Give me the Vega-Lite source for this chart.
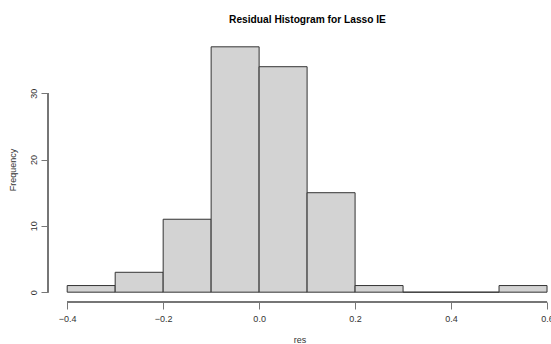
{
  "$schema": "https://vega.github.io/schema/vega-lite/v6.json",
  "autosize": "none",
  "padding": {"left": 48, "top": 37, "right": 0, "bottom": 42},
  "width": 503,
  "height": 265,
  "background": "white",
  "title": {
    "text": "Residual Histogram for Lasso IE",
    "font": "Liberation Sans",
    "fontSize": 10.2,
    "fontWeight": "bold",
    "color": "#000000",
    "anchor": "middle",
    "dx": 8,
    "offset": 12
  },
  "data": {
    "values": [
      {"start": -0.4, "end": -0.3, "count": 1},
      {"start": -0.3, "end": -0.2, "count": 3},
      {"start": -0.2, "end": -0.1, "count": 11},
      {"start": -0.1, "end": 0.0, "count": 37},
      {"start": 0.0, "end": 0.1, "count": 34},
      {"start": 0.1, "end": 0.2, "count": 15},
      {"start": 0.2, "end": 0.3, "count": 1},
      {"start": 0.3, "end": 0.4, "count": 0},
      {"start": 0.4, "end": 0.5, "count": 0},
      {"start": 0.5, "end": 0.6, "count": 1}
    ]
  },
  "layer": [
    {
      "mark": {"type": "bar", "fill": "#D3D3D3", "stroke": "#333333", "strokeWidth": 1, "binSpacing": 0},
      "encoding": {
        "x": {
          "field": "start", "type": "quantitative",
          "scale": {"domain": [-0.44, 0.6083], "nice": false, "zero": false},
          "axis": {
            "values": [-0.4, -0.2, 0.0, 0.2, 0.4, 0.6],
            "format": ".1f",
            "domain": false, "grid": false,
            "tickSize": 7, "tickColor": "#777777",
            "labelFont": "Liberation Sans", "labelFontSize": 9, "labelColor": "#333333",
            "labelPadding": 5, "labelFlush": false, "labelOverlap": false,
            "title": "res", "titleFont": "Liberation Sans", "titleFontSize": 9,
            "titleFontWeight": "normal", "titleColor": "#333333", "titlePadding": 12
          }
        },
        "x2": {"field": "end"},
        "y": {
          "field": "count", "type": "quantitative",
          "scale": {"domain": [-1.48, 38.48], "nice": false, "zero": false},
          "axis": {
            "values": [0, 10, 20, 30],
            "domain": false, "grid": false,
            "tickSize": 7, "tickColor": "#777777",
            "labelFont": "Liberation Sans", "labelFontSize": 9, "labelColor": "#333333",
            "labelAngle": -90, "labelAlign": "center", "labelBaseline": "bottom",
            "labelPadding": 3, "labelFlush": false,
            "title": "Frequency", "titleFont": "Liberation Sans", "titleFontSize": 9,
            "titleFontWeight": "normal", "titleColor": "#333333", "titlePadding": 12
          }
        },
        "y2": {"datum": 0}
      }
    },
    {
      "mark": {"type": "rule", "color": "#777777", "strokeWidth": 1},
      "encoding": {
        "x": {"datum": -0.4},
        "x2": {"datum": 0.6},
        "y": {"datum": -1.48}
      }
    },
    {
      "mark": {"type": "rule", "color": "#777777", "strokeWidth": 1},
      "encoding": {
        "x": {"datum": -0.44},
        "y": {"datum": 0},
        "y2": {"datum": 30}
      }
    }
  ],
  "config": {"view": {"stroke": null}}
}
